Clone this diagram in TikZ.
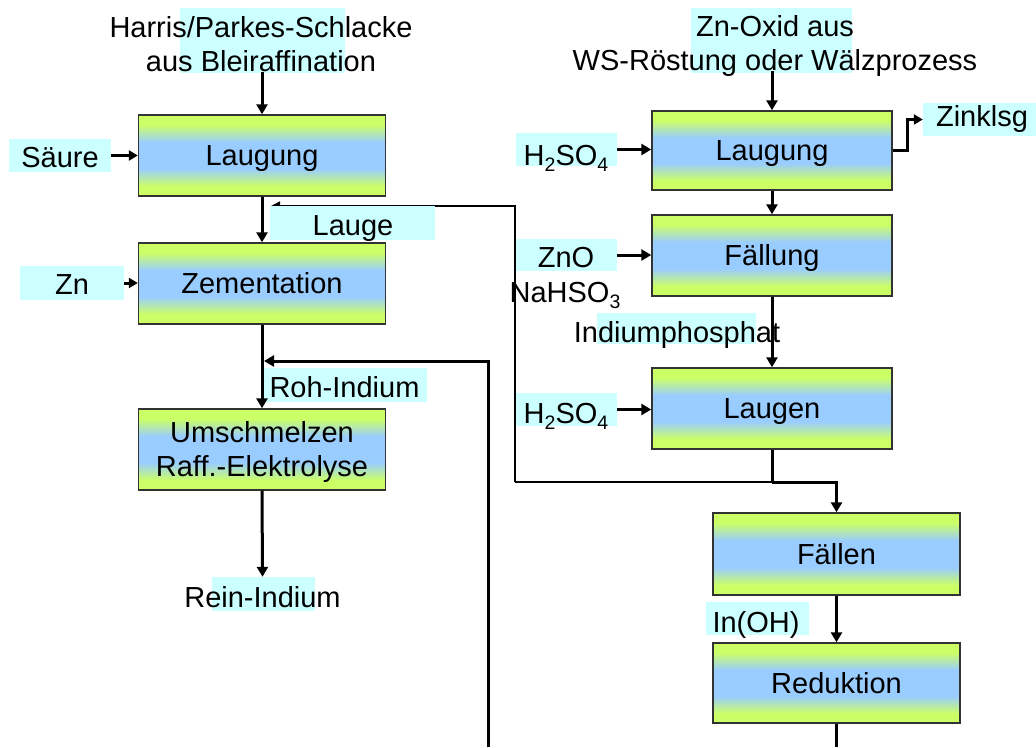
\documentclass[tikz,border=0pt]{standalone}
\usepackage{fontspec}
\setmainfont{Liberation Sans}
\usetikzlibrary{arrows.meta}

\definecolor{boxlime}{RGB}{204,255,102}
\definecolor{boxblue}{RGB}{153,204,255}
\definecolor{hlcyan}{RGB}{204,255,255}

% lime - blue - lime band used to fill the process boxes
\pgfdeclareverticalshading{limeblue}{100bp}{%
  color(0bp)=(boxlime); color(31bp)=(boxlime);
  color(42bp)=(boxblue); color(58bp)=(boxblue);
  color(69bp)=(boxlime); color(100bp)=(boxlime)}

% lowered chemical index
\newcommand\chemidx[1]{\raisebox{-6pt}{\fontsize{19.5}{19.5}\selectfont #1}}
% two centred lines, aligned on the first baseline
\newcommand\twolines[2]{\begin{tabular}[t]{@{}c@{}}#1\\#2\end{tabular}}

\begin{document}
\begin{tikzpicture}[x=1pt, y=-1pt,
  font=\fontsize{29}{34}\selectfont,
  procbox/.style={draw=black!80, line width=1.4pt, shading=limeblue,
    minimum width=247pt, minimum height=81pt, inner sep=0pt,
    text height=20.5pt, text depth=0pt},
  hl/.style={fill=hlcyan, draw=none, inner sep=0pt},
  lbl/.style={anchor=base, inner sep=0pt},
  flow/.style={line width=3pt, -{Triangle[length=10pt,width=11pt]}},
  flowline/.style={line width=3pt},
  feed/.style={line width=3pt, -{Triangle[length=9pt,width=10pt]}},
  loopline/.style={line width=2.3pt},
  backflow/.style={line width=1.6pt, -{Triangle[length=9pt,width=9pt]}}]

\useasboundingbox (0,0) rectangle (1036,747);

% ---- junctions and open ends ----
\coordinate (split)       at (772,482);
\coordinate (loop-corner) at (515,482);
\coordinate (lauge-tip)   at (271,206);
\coordinate (roh-tip)     at (264,361);
\coordinate (roh-in)      at (488,747);
\coordinate (red-out)     at (836.5,747);

% the Lauge return runs underneath its label field
\draw[backflow] (loop-corner) |- (lauge-tip);

% ---- highlight fields behind the labels ----
\node[hl, minimum width=165pt, minimum height=65pt] (hl-harris)  at (262.5,40.5) {};
\node[hl, minimum width=102pt, minimum height=33pt] (hl-saeure)  at (60,155.5) {};
\node[hl, minimum width=165pt, minimum height=34pt] (hl-lauge)   at (352.5,223) {};
\node[hl, minimum width=104pt, minimum height=34pt] (hl-zn)      at (72,283) {};
\node[hl, minimum width=165pt, minimum height=34pt] (hl-roh)     at (344.5,385) {};
\node[hl, minimum width=103pt, minimum height=34pt] (hl-rein)    at (263.5,594) {};
\node[hl, minimum width=161pt, minimum height=65pt] (hl-znoxid)  at (771.5,40.5) {};
\node[hl, minimum width=101pt, minimum height=33pt] (hl-h2so4a)  at (566.5,149.5) {};
\node[hl, minimum width=113pt, minimum height=33pt] (hl-zinklsg) at (979.5,119.5) {};
\node[hl, minimum width=101pt, minimum height=32pt] (hl-zno)     at (566.5,255) {};
\node[hl, minimum width=159pt, minimum height=31pt] (hl-phos)    at (676.5,328.5) {};
\node[hl, minimum width=101pt, minimum height=33pt] (hl-h2so4b)  at (566.5,409.5) {};
\node[hl, minimum width=103pt, minimum height=33pt] (hl-inoh)    at (757.5,618.5) {};

% ---- process boxes ----
\node[procbox] (L1) at (262,155.5) {Laugung};
\node[procbox] (L2) at (262,283.5) {Zementation};
\node[procbox, text depth=34pt] (L3) at (262,449.5)
  {\twolines{Umschmelzen}{Raff.-Elektrolyse}};
\node[procbox, minimum width=240pt, minimum height=79pt] (R1) at (772,150.5) {Laugung};
\node[procbox, minimum width=240pt] (R2) at (772,255.5) {Fällung};
\node[procbox, minimum width=240pt] (R3) at (772,408.5) {Laugen};
\node[procbox, minimum height=82pt] (R4) at (836.5,554) {Fällen};
\node[procbox, minimum height=80pt] (R5) at (836.5,683) {Reduktion};

% ---- labels ----
\node[lbl] (harris) at (261,37) {\twolines{Harris/Parkes-Schlacke}{aus Bleiraffination}};
\node[lbl] (saeure) at (60,167) {Säure};
\node[lbl] (lauge)  at (353,235) {Lauge};
\node[lbl] (zn)     at (72,294) {Zn};
\node[lbl] (roh)    at (344.5,397) {Roh-Indium};
\node[lbl, inner ysep=9pt] (rein) at (262.5,607) {Rein-Indium};
\node[lbl] (znoxid) at (775,36) {\twolines{Zn-Oxid aus}{WS-Röstung oder Wälzprozess}};
\node[lbl] (h2so4a) at (566,165) {H\chemidx{2}SO\chemidx{4}};
\node[lbl] (zinklsg) at (982,126) {Zinklsg};
\node[lbl] (zno)    at (566,267) {ZnO};
\node[lbl] (nahso)  at (565,302) {NaHSO\chemidx{3}};
\node[lbl] (phos)   at (677,342) {Indiumphosphat};
\node[lbl] (h2so4b) at (566,423) {H\chemidx{2}SO\chemidx{4}};
\node[lbl] (inoh)   at (756,632) {In(OH)};

% ---- left line ----
\draw[flow] ([yshift=9pt]harris.south -| L1.north) -- (L1.north);
\draw[feed] (hl-saeure.east) -- (hl-saeure.east -| L1.west);
\draw[flow] (L1.south) -- (L2.north);
\draw[feed] (hl-zn.east) -- (hl-zn.east -| L2.west);
\draw[flow] (L2.south) -- (L3.north);
\draw[flow] (L3.south) -- (rein.north);
\draw[flow] (roh-in) |- (roh-tip);

% ---- right line ----
\draw[flow] ([yshift=9pt]znoxid.south -| R1.north) -- (R1.north);
\draw[flow] (hl-h2so4a.east) -- (hl-h2so4a.east -| R1.west);
\draw[feed] (R1.east) -- ++(15,0) |- (hl-zinklsg.west);
\draw[flow] (R1.south) -- (R2.north);
\draw[flow] (hl-zno.east) -- (hl-zno.east -| R2.west);
\draw[flow] (R2.south) -- (R3.north);
\draw[flow] (hl-h2so4b.east) -- (hl-h2so4b.east -| R3.west);
\draw[flowline] (R3.south) -- (split);
\draw[loopline] (loop-corner) -- (split);
\draw[flow] (split) -| (R4.north);
\draw[flow] (R4.south) -- (R5.north);
\draw[flowline] (R5.south) -- (red-out);

\end{tikzpicture}
\end{document}
